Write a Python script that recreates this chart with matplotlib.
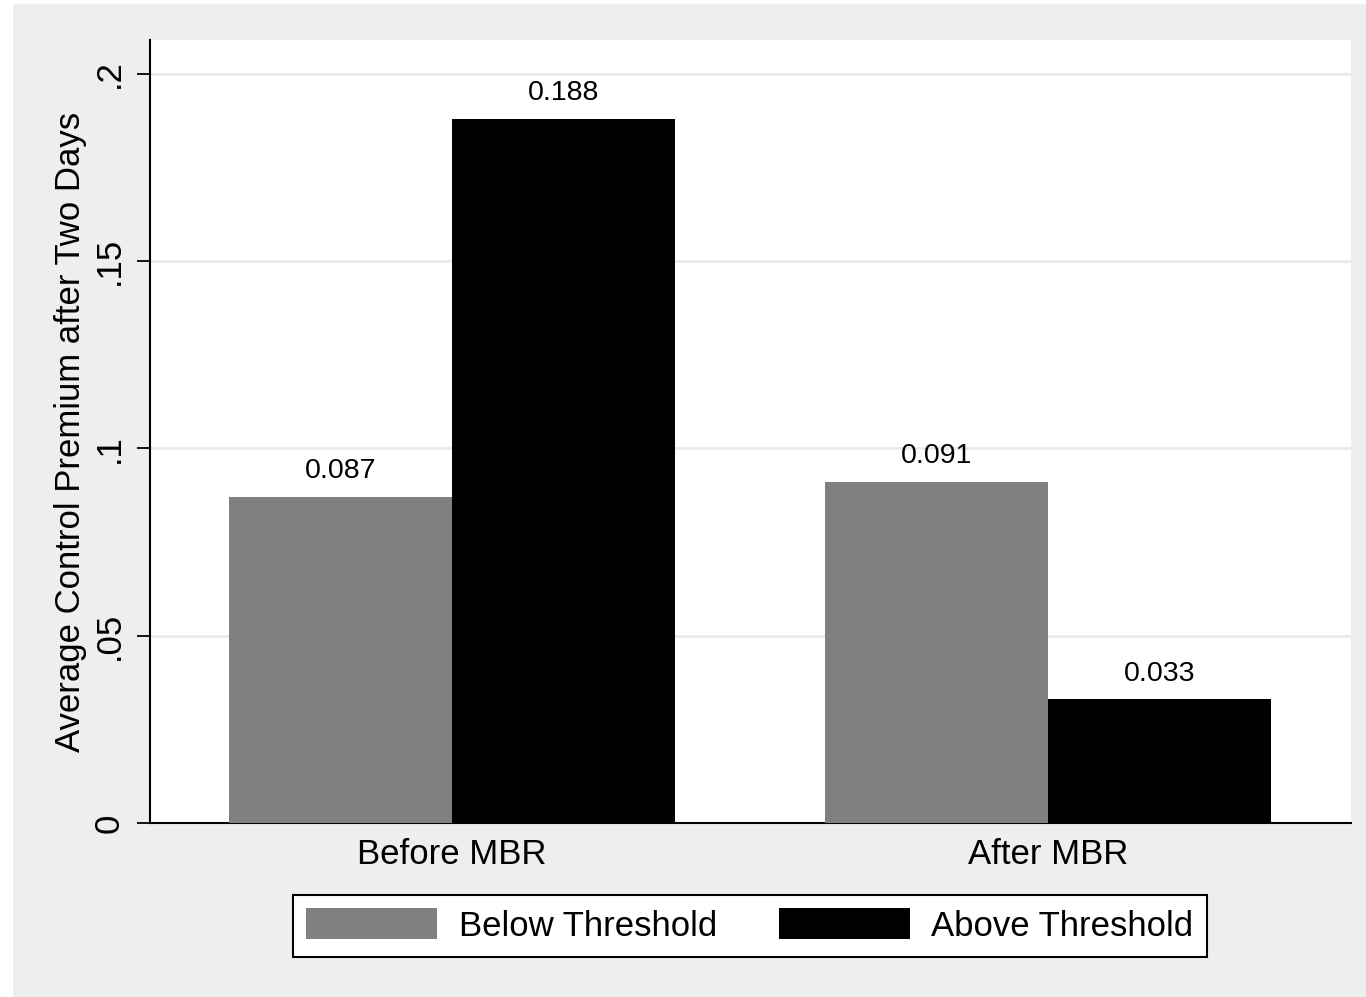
import numpy as np
import matplotlib.pyplot as plt
from matplotlib.patches import Rectangle

# data
grupos = ["Before MBR", "After MBR"]
series = ["Below Threshold", "Above Threshold"]
abaixo = [0.087, 0.091]
acima = [0.188, 0.033]
yticks = [0, 0.05, 0.1, 0.15, 0.2]
yticklabels = ["0", ".05", ".1", ".15", ".2"]

W, H = 1366, 997
plt.rcParams['font.family'] = ['Liberation Sans', 'DejaVu Sans']

fig = plt.figure(figsize=(W / 100, H / 100), dpi=100)
fig.patch.set_facecolor("white")
# fundo cinza estilo Stata
fundo = Rectangle((13 / W, 0), 1 - 13 / W, 1 - 4 / H, transform=fig.transFigure,
                  facecolor="#eeeeee", edgecolor="none", zorder=-5)
fig.add_artist(fundo)

# area do grafico em pixels
x0, x1, y0, y1 = 150, 1351, 40, 823
ax = fig.add_axes([x0 / W, 1 - y1 / H, (x1 - x0) / W, (y1 - y0) / H])
ax.set_facecolor("white")

x = np.arange(len(grupos))
largura = 0.374
b1 = ax.bar(x - largura / 2, abaixo, largura, color="#808080", label=series[0], zorder=3)
b2 = ax.bar(x + largura / 2, acima, largura, color="black", label=series[1], zorder=3)

for barras, vals in [(b1, abaixo), (b2, acima)]:
    for b, v in zip(barras, vals):
        ax.annotate(f"{v:.3f}", (b.get_x() + b.get_width() / 2, v), xytext=(0, 18.5),
                    textcoords="offset points", ha="center", va="center", fontsize=20.5)

ax.set_xlim(-0.507, 1.508)
ax.set_ylim(0, 0.209)
ax.set_yticks(yticks)
ax.set_yticklabels(yticklabels, rotation=90, va="center", fontsize=25)
ax.set_xticks(x)
ax.set_xticklabels(grupos, fontsize=25)
ax.tick_params(axis="x", length=0, pad=11)
ax.tick_params(axis="y", length=9.5, width=1.3, pad=8)
ax.grid(axis="y", color="#eaeaea", linewidth=2, zorder=0)
ax.set_ylabel("Average Control Premium after Two Days", fontsize=25, va="center")
ax.yaxis.set_label_coords(-0.0666, 0.5)

for s in ["top", "right"]:
    ax.spines[s].set_visible(False)
for s in ["left", "bottom"]:
    ax.spines[s].set_linewidth(1.5)

leg = fig.legend(loc="center", bbox_to_anchor=(750 / W, 1 - 925.5 / H), ncol=2, fontsize=25,
                 frameon=True, fancybox=False, edgecolor="black", framealpha=1,
                 handlelength=3.75, handleheight=0.98, handletextpad=0.63,
                 columnspacing=1.8, borderpad=0.4)
leg.get_frame().set_linewidth(1.5)

plt.savefig("out.png", dpi=100)
